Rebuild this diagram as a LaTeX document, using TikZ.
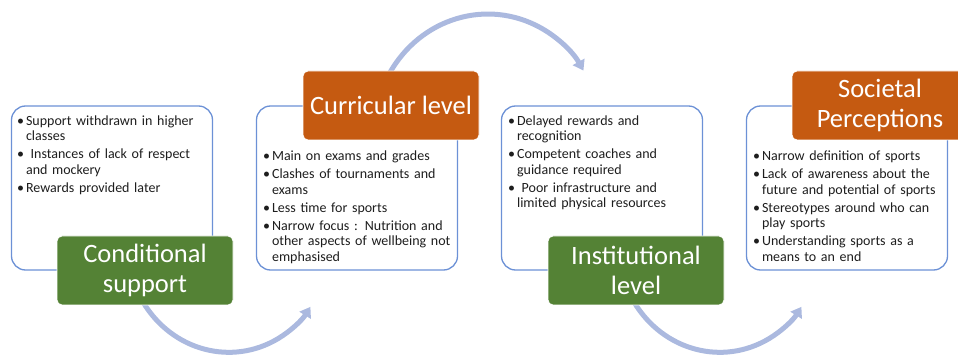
\documentclass[tikz,border=0pt]{standalone}
\usepackage{fontspec}
\setmainfont{Carlito}
\usetikzlibrary{positioning,arrows.meta}
\pgfdeclarelayer{background}
\pgfsetlayers{background,main}
\definecolor{edgeblue}{RGB}{108,145,214}
\definecolor{arcblue}{RGB}{171,185,223}
\definecolor{leafgreen}{RGB}{84,130,53}
\definecolor{rust}{RGB}{197,90,17}
\definecolor{ink}{RGB}{30,30,30}
\newcommand{\itm}[1]{\par\makebox[9pt][l]{\textbullet}#1}

\begin{document}
\begin{tikzpicture}[x=1pt,y=1pt,node distance=245pt,on grid,
  panel/.style={draw=edgeblue,line width=1.3pt,fill=white,rounded corners=14pt,
    minimum width=201pt,minimum height=164pt},
  lbl/.style={draw=white,line width=0.8pt,rounded corners=5pt,minimum width=176pt,
    minimum height=69pt,inner sep=0pt,text=white,align=center,
    font=\fontsize{26.5}{29.5}\selectfont},
  grn/.style={lbl,fill=leafgreen},
  org/.style={lbl,fill=rust},
  items/.style={anchor=north west,inner sep=0pt,text width=192pt,text=ink,
    font=\fontsize{14}{15.5}\selectfont,
    execute at begin node={\raggedright\leftskip=9pt\parindent=-9pt\parskip=2.5pt\hyphenpenalty=10000}},
  flow/.style={draw=arcblue,line width=5pt,shorten <=-4pt,-{Triangle[length=10pt,width=13pt]}}]
  \useasboundingbox (0,0) rectangle (958,356);
  \clip (0,0) rectangle (958,356);
  \node[panel] (b1) at (112,168) {};
  \node[panel] (b2) [right = of b1] {};
  \node[panel] (b3) [right = of b2] {};
  \node[panel] (b4) [right = of b3] {};
  \node[grn] (cond) [below right = 82.5pt and 33pt of b1] {Conditional\\support};
  \node[org] (curr) [above right = 82.5pt and 34pt of b2] {Curricular level};
  \node[grn] (inst) [below right = 82.5pt and 34pt of b3] {Institutional\\level};
  \node[org] (soc) [above right = 82.5pt and 33pt of b4] {Societal\\Perceptions};
  \node[items] (t1) at ([shift={(6pt,-1.5pt)}]b1.north west) {%
    \itm{Support withdrawn in higher\newline classes}
    \itm{\ Instances of lack of respect\newline and mockery}
    \itm{Rewards provided later}};
  \node[items] (t2) at ([shift={(7pt,-37pt)}]b2.north west) {%
    \itm{Main on exams and grades}
    \itm{Clashes of tournaments and\newline exams}
    \itm{Less time for sports}
    \itm{Narrow focus : Nutrition and\newline other aspects of wellbeing not\newline emphasised}};
  \node[items] (t3) at ([shift={(7pt,-1.5pt)}]b3.north west) {%
    \itm{Delayed rewards and\newline recognition}
    \itm{Competent coaches and\newline guidance required}
    \itm{\ Poor infrastructure and\newline limited physical resources}};
  \node[items] (t4) at ([shift={(7pt,-37pt)}]b4.north west) {%
    \itm{Narrow definition of sports}
    \itm{Lack of awareness about the\newline future and potential of sports}
    \itm{Stereotypes around who can\newline play sports}
    \itm{Understanding sports as a\newline means to an end}};
  \begin{pgfonlayer}{background}
    \draw[flow] (cond.south) arc[start angle=211,end angle=328,radius=97];
    \draw[flow] (curr.north) arc[start angle=151,end angle=29,radius=110];
    \draw[flow] (inst.south) arc[start angle=211,end angle=328,radius=97];
  \end{pgfonlayer}
\end{tikzpicture}
\end{document}
